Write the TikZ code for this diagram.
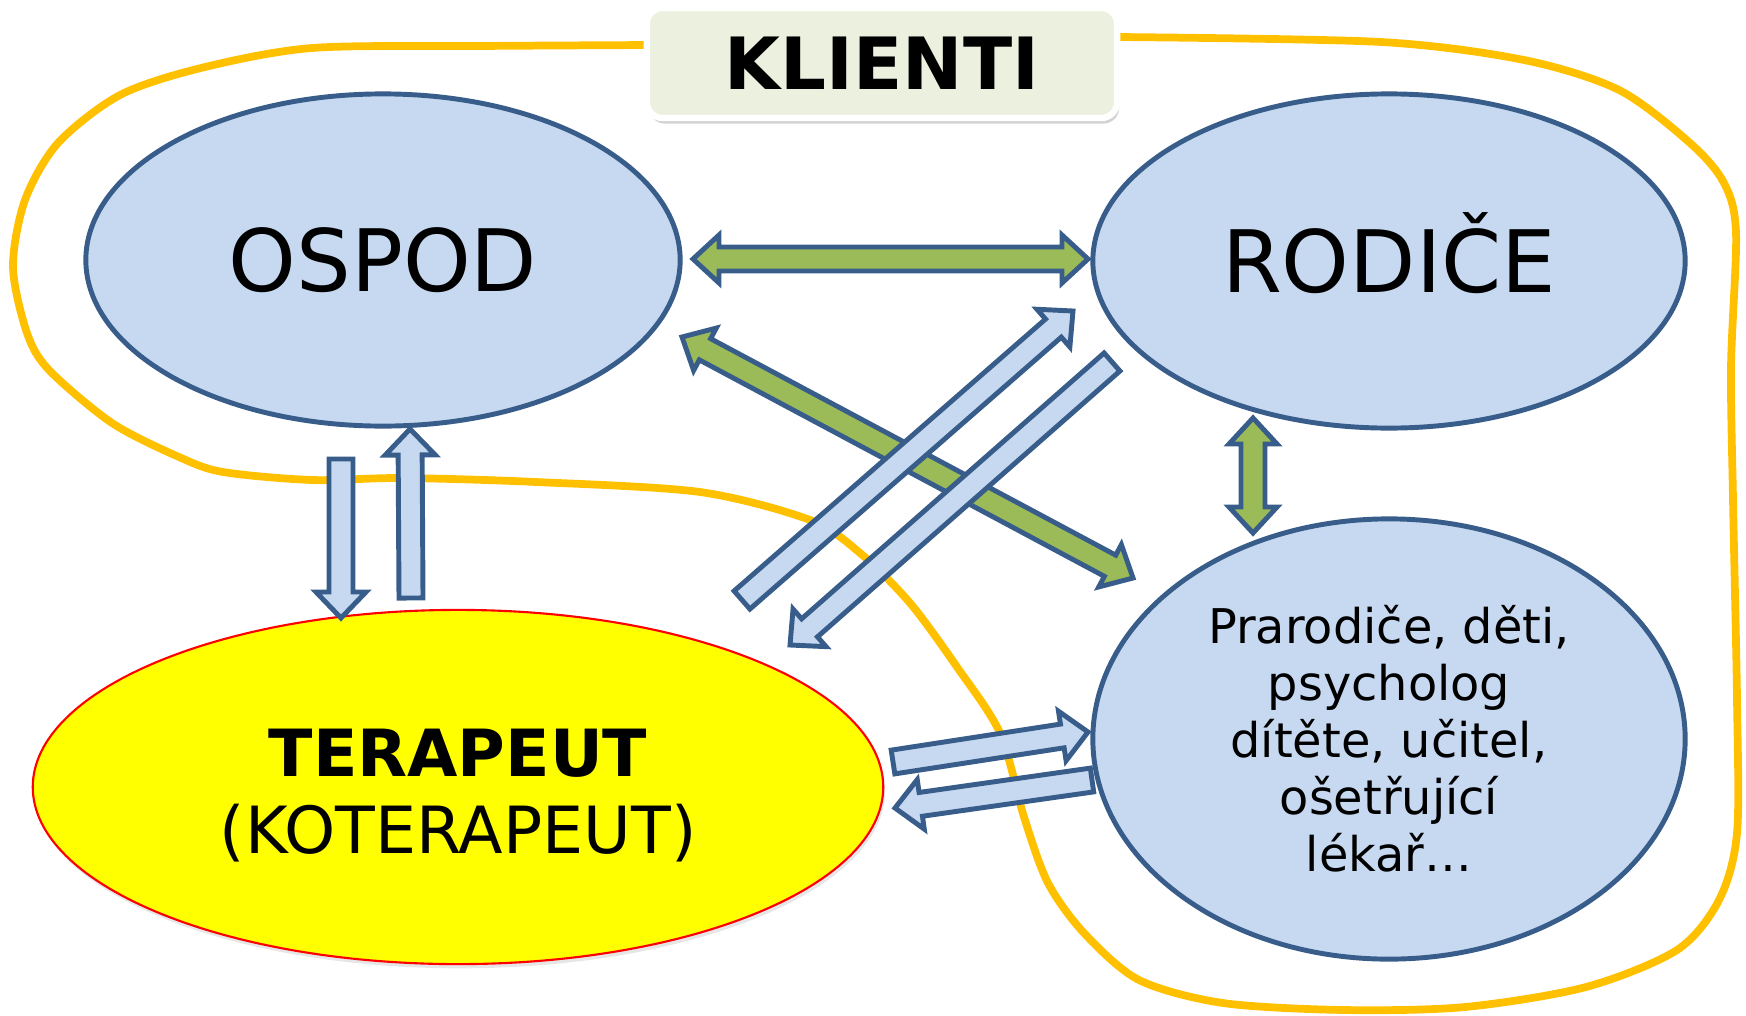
\documentclass[tikz,border=0pt]{standalone}
\usepackage{fontspec}
\setmainfont{DejaVu Sans}
\usetikzlibrary{calc,shapes.geometric,shadows}

\definecolor{partyblue}{HTML}{C6D9F1}
\definecolor{edgeblue}{HTML}{385D8A}
\definecolor{linkgreen}{HTML}{9BBB59}
\definecolor{klientgreen}{HTML}{EBF1DE}
\definecolor{clientyellow}{HTML}{FFC000}
\definecolor{terapeutfill}{HTML}{FFFF00}
\definecolor{terapeutedge}{HTML}{FF0000}

\tikzset{
  party/.style={ellipse, draw=edgeblue, fill=partyblue, line width=1.4pt, inner sep=0pt},
  bigname/.style={font=\fontsize{24.5}{29}\selectfont, text height=17.9pt, text depth=0pt},
  arrowbox/.style={draw=edgeblue, line width=1.4pt, line join=miter, fill=partyblue},
  greenbox/.style={arrowbox, fill=linkgreen},
}

% one-way block arrow: from #2 to #3
\newcommand{\onearrow}[3][]{%
  \coordinate (hb) at ($(#3)!0.26cm!(#2)$);
  \draw[arrowbox,#1] ($(#2)!0.12cm!90:(#3)$) -- ($(hb)!0.12cm!90:(#3)$)
    -- ($(hb)!0.25cm!90:(#3)$) -- (#3) -- ($(hb)!0.25cm!-90:(#3)$)
    -- ($(hb)!0.12cm!-90:(#3)$) -- ($(#2)!0.12cm!-90:(#3)$) -- cycle;}

% two-way block arrow between #2 and #3
\newcommand{\twoarrow}[3][]{%
  \coordinate (ha) at ($(#2)!0.26cm!(#3)$);
  \coordinate (hb) at ($(#3)!0.26cm!(#2)$);
  \draw[greenbox,#1] (#2) -- ($(ha)!0.24cm!-90:(#2)$) -- ($(ha)!0.12cm!-90:(#2)$)
    -- ($(hb)!0.12cm!90:(#3)$) -- ($(hb)!0.24cm!90:(#3)$) -- (#3)
    -- ($(hb)!0.24cm!-90:(#3)$) -- ($(hb)!0.12cm!-90:(#3)$)
    -- ($(ha)!0.12cm!90:(#2)$) -- ($(ha)!0.24cm!90:(#2)$) -- cycle;}

\begin{document}
\begin{tikzpicture}[x=0.01cm, y=-0.01cm]
\useasboundingbox (0,0) rectangle (1746,1015);

% the clients border
\draw[clientyellow, line width=2.2pt, line join=round] plot[smooth] coordinates {
  (652,45) (480,46) (312,48) (201,68) (120,95) (58,143) (25,200) (13,267)
  (27,333) (49,370) (112,423) (179,457) (223,472) (312,480) (402,478)
  (536,482) (700,492) (810,520) (860,553) (910,603) (957,667) (1000,733)
  (1024,817) (1048,883) (1084,933) (1139,980) (1223,1003) (1344,1010)
  (1465,1007) (1586,987) (1677,950) (1719,900) (1737,833) (1737,700)
  (1733,500) (1731,367) (1736,233) (1724,183) (1690,143) (1619,90)
  (1524,60) (1381,42) (1119,37)};

\node[rounded corners=0.16cm, draw=white, line width=1.8pt, fill=klientgreen,
  minimum width=4.7cm, minimum height=1.1cm,
  drop shadow={opacity=0.35, shadow xshift=0.6pt, shadow yshift=-1.6pt},
  font=\bfseries\fontsize{20.5}{24}\selectfont, text height=15pt, text depth=0pt]
  (klienti) at (882,63) {KLIENTI};

% parties
\node[party, bigname, minimum width=5.94cm, minimum height=3.32cm] (ospod) at (383,260) {OSPOD};
\node[party, bigname, minimum width=5.92cm, minimum height=3.34cm] (rodice) at (1389,261) {RODIČE};
\node[party, minimum width=5.92cm, minimum height=4.40cm, align=center,
  font=\fontsize{13.6}{16.2}\selectfont] (ostatni) at (1389,739)
  {Prarodiče, děti,\\psycholog\\dítěte, učitel,\\ošetřující\\lékař…};
\node[ellipse, draw=terapeutedge, fill=terapeutfill, line width=0.6pt, inner sep=0pt,
  minimum width=8.5cm, minimum height=3.54cm,
  drop shadow={opacity=0.2, shadow xshift=0.5pt, shadow yshift=-1.2pt}]
  (terapeut) at (458,787) {};
\node[align=center, font=\fontsize{18.5}{21.9}\selectfont] (terapeuttext)
  at ($(terapeut.center)+(0,9)$) {\textbf{TERAPEUT}\\(KOTERAPEUT)};

% arrow ends
\coordinate (or1) at (693,259);   \coordinate (or2) at (1088,259);
\coordinate (ox1) at (682,337);   \coordinate (ox2) at (1133,578);
\coordinate (rx1) at (1253,418);  \coordinate (rx2) at (1253,533);
\coordinate (tr1) at (742,600);   \coordinate (tr2) at (1073,311);
\coordinate (rt1) at (1112,362);  \coordinate (rt2) at (790,645);
\coordinate (ot1) at (341,459);   \coordinate (ot2) at (341,618);
\coordinate (to1) at (411,598);   \coordinate (to2) at (410,429);
\coordinate (tx1) at (893,762);   \coordinate (tx2) at (1088,732);
\coordinate (xt1) at (1092,780);  \coordinate (xt2) at (895,808);

\twoarrow{or1}{or2}
\twoarrow{ox1}{ox2}
\twoarrow{rx1}{rx2}
\onearrow{tr1}{tr2}
\onearrow{rt1}{rt2}
\onearrow{ot1}{ot2}
\onearrow{to1}{to2}
\onearrow{tx1}{tx2}
\onearrow{xt1}{xt2}
\end{tikzpicture}
\end{document}
